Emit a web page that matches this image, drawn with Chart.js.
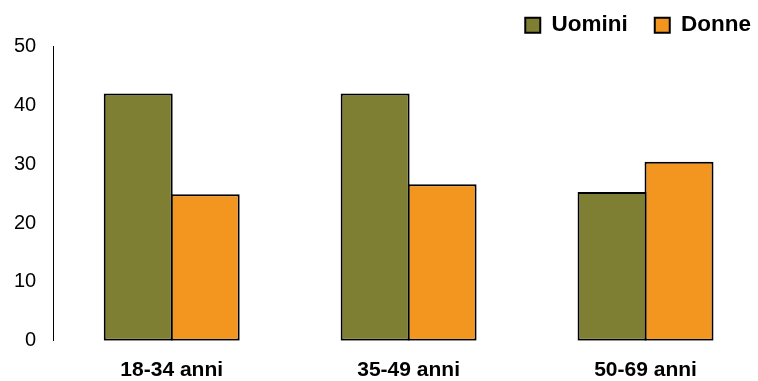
<!DOCTYPE html>
<html>
<head>
<meta charset="utf-8">
<script src="https://cdn.jsdelivr.net/npm/chart.js@4/dist/chart.umd.min.js"></script>
<style>
html, body { margin: 0; padding: 0; background: #fff; overflow: hidden; width: 758px; height: 381px; }
#wrap { position: absolute; left: -4px; top: -13px; width: 782px; height: 413px; }
</style>
</head>
<body>
<div id="wrap"><canvas id="c"></canvas></div>
<script>
const categories = ['18-34 anni', '35-49 anni', '50-69 anni'];
const uomini = [42.0, 42.0, 25.3];
const donne = [24.9, 26.6, 30.4];
const yTicks = [0, 10, 20, 30, 40, 50];
const seriesNames = ['Uomini', 'Donne'];

const FONT = "'Liberation Sans', Arial, sans-serif";

new Chart(document.getElementById('c'), {
  type: 'bar',
  data: {
    labels: categories,
    datasets: [
      { label: seriesNames[0], data: uomini, backgroundColor: '#7F7F33', borderColor: '#000', borderWidth: 2, borderSkipped: false },
      { label: seriesNames[1], data: donne, backgroundColor: '#F39620', borderColor: '#000', borderWidth: 2, borderSkipped: false }
    ]
  },
  options: {
    responsive: true,
    maintainAspectRatio: false,
    animation: false,
    layout: { padding: { left: 1, right: 0, top: 0, bottom: 0 } },
    datasets: { bar: { categoryPercentage: 0.5654, barPercentage: 1.03 } },
    plugins: {
      tooltip: { enabled: false },
      legend: {
        position: 'top',
        align: 'end',
        labels: {
          boxWidth: 15,
          boxHeight: 15,
          padding: 27,
          color: '#000',
          font: { family: FONT, size: 22.5, weight: 'bold' }
        }
      }
    },
    scales: {
      x: {
        grid: { display: false, drawTicks: false },
        border: { display: false },
        ticks: { color: '#000', padding: 17, font: { family: FONT, size: 21, weight: 'bold' } }
      },
      y: {
        min: 0, max: 50,
        afterBuildTicks: (axis) => { axis.ticks = yTicks.map(v => ({ value: v })); },
        grid: { display: false, drawTicks: false },
        border: { display: true, color: '#000', width: 1 },
        ticks: { color: '#000', padding: 17, font: { family: FONT, size: 20 } }
      },
      y2: {
        position: 'right',
        min: 0, max: 50,
        grid: { display: false, drawTicks: false },
        border: { display: false },
        ticks: { display: false },
        afterFit: (scale) => { scale.width = 14; }
      }
    }
  }
});
</script>
</body>
</html>
